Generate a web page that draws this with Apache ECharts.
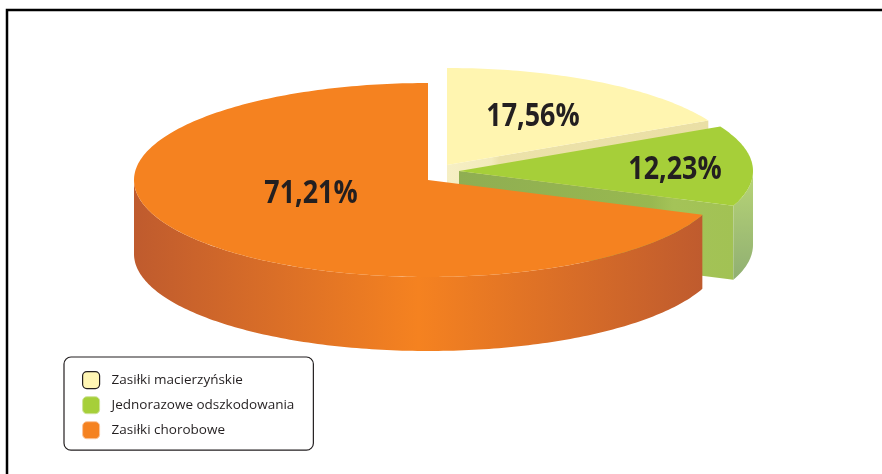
<!DOCTYPE html>
<html>
<head>
<meta charset="utf-8">
<style>html,body{margin:0;padding:0;background:#fff}#chart{width:882px;height:474px}</style>
<script src="https://cdn.jsdelivr.net/npm/echarts@6/dist/echarts.min.js"></script>
</head>
<body>
<div id="chart"></div>
<script>
// Benefit categories and their shares, in percent, clockwise from twelve o'clock
const categories = ['Zasiłki macierzyńskie', 'Jednorazowe odszkodowania', 'Zasiłki chorobowe'];
const shares = [17.56, 12.23, 71.21];

const total = shares.reduce((a, b) => a + b, 0);
const RX = 294, RY = 97, DEPTH = 74;
const DEG = Math.PI / 180;

// Per-slice look: exploded apex, label spot relative to the apex, and paints
const sliceStyles = [
  { apex: [447, 165], label: [86, -48], top: '#fff5b0',
    cut: { type: 'linear', x: 0, y: 0, x2: 1, y2: 0, colorStops: [
      { offset: 0, color: '#f6efc4' }, { offset: 0.17, color: '#f3ebbb' },
      { offset: 0.2, color: '#ece2aa' }, { offset: 1, color: '#eadfa5' }] } },
  { apex: [459, 171], label: [216, -1], top: '#a6cf39',
    cut: { type: 'linear', x: 0, y: 0, x2: 1, y2: 0, colorStops: [
      { offset: 0, color: '#8fae52' }, { offset: 0.7, color: '#98b850' },
      { offset: 0.78, color: '#a4c358' }, { offset: 1, color: '#a2c254' }] },
    side: { type: 'linear', x: 0, y: 0, x2: 0, y2: 1, colorStops: [
      { offset: 0, color: '#b8d576' }, { offset: 1, color: '#90af72' }] } },
  { apex: [428, 180], label: [-117, 14], top: '#f58220',
    side: { type: 'linear', x: 0, y: 0, x2: 1, y2: 0, colorStops: [
      { offset: 0, color: '#bf5b2e' }, { offset: 0.5, color: '#f58220' },
      { offset: 1, color: '#bf5b2e' }] } }
];

// The drawing's camera leans the front-right rim slightly towards the viewer
function projected(t) {
  let a = ((t + 180) % 360 + 360) % 360 - 180;
  return t + 5 * Math.exp(-Math.pow((a - 20) / 25, 2));
}

function rimPoint(apex, t, drop) {
  return [apex[0] + RX * Math.cos(t * DEG), apex[1] + RY * Math.sin(t * DEG) + drop];
}

function arcPoints(apex, from, to, drop) {
  const pts = [], n = Math.max(2, Math.ceil(Math.abs(to - from)));
  for (let i = 0; i <= n; i++) pts.push(rimPoint(apex, from + (to - from) * i / n, drop));
  return pts;
}

function sliceRenderer(index) {
  const before = shares.slice(0, index).reduce((a, b) => a + b, 0);
  const style = sliceStyles[index];
  return function (params, api) {
    const value = api.value(0);
    const start = projected(-90 + before / total * 360);
    const end = projected(-90 + (before + value) / total * 360);
    const apex = style.apex;
    const children = [];

    // Straight cut face, seen when the slice's far edge lies on the upper half
    if (style.cut) {
      const p = rimPoint(apex, end, 0);
      children.push({ type: 'polygon',
        shape: { points: [apex, p, [p[0], p[1] + DEPTH], [apex[0], apex[1] + DEPTH]] },
        style: { fill: style.cut } });
    }
    // Outer wall: only the stretch on the front half of the disc is visible
    if (style.side) {
      const from = Math.max(start, 0), to = Math.min(end, 180);
      const points = arcPoints(apex, from, to, 0).concat(arcPoints(apex, to, from, DEPTH));
      children.push({ type: 'polygon', shape: { points }, style: { fill: style.side } });
    }
    // Top face
    children.push({ type: 'polygon',
      shape: { points: [apex].concat(arcPoints(apex, start, end, 0)) },
      style: { fill: style.top } });
    // Value label
    children.push({ type: 'text',
      x: apex[0] + style.label[0], y: apex[1] + style.label[1],
      scaleX: 0.84,
      style: { text: value.toFixed(2).replace('.', ',') + '%',
        fontFamily: 'Open Sans', fontWeight: 700, fontSize: 32,
        fill: '#231f20', align: 'center', verticalAlign: 'middle' } });
    return { type: 'group', children };
  };
}

const chart = echarts.init(document.getElementById('chart'), null, { renderer: 'canvas' });
chart.setOption({
  animation: false,
  backgroundColor: '#fff',
  graphic: [{
    type: 'rect', silent: true,
    shape: { x: 7, y: 10, width: 1000, height: 1000 },
    style: { fill: 'none', stroke: '#000', lineWidth: 2.5 }
  }],
  legend: {
    left: 64, top: 357, orient: 'vertical', align: 'left',
    selectedMode: false,
    backgroundColor: '#fff', borderColor: '#231f20', borderWidth: 1.2, borderRadius: 7,
    padding: [14, 19, 11, 18],
    itemWidth: 17, itemHeight: 17, itemGap: 7,
    textStyle: { fontFamily: 'Open Sans', fontSize: 13.5, color: '#231f20', padding: [0, 0, 0, 7] },
    data: [
      { name: categories[0], icon: 'roundRect', itemStyle: { color: '#fff6b4', borderColor: '#231f20', borderWidth: 1.2 } },
      { name: categories[1], icon: 'roundRect', itemStyle: { color: '#a6cf39', borderColor: '#cfe39a', borderWidth: 1 } },
      { name: categories[2], icon: 'roundRect', itemStyle: { color: '#f58220', borderColor: '#fbc59a', borderWidth: 1 } }
    ]
  },
  series: categories.map((name, i) => ({
    type: 'custom',
    name,
    coordinateSystem: 'none',
    silent: true,
    z: 2 + i,
    itemStyle: { color: sliceStyles[i].top },
    data: [[shares[i]]],
    renderItem: sliceRenderer(i)
  }))
});
</script>
</body>
</html>
